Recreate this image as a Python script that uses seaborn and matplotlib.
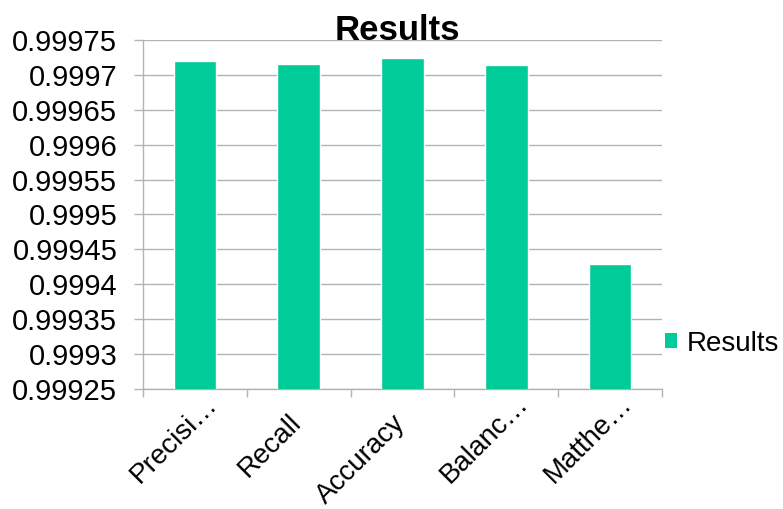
import matplotlib
matplotlib.use("Agg")
import matplotlib.pyplot as plt
import seaborn as sns
import pandas as pd
from matplotlib.patches import Patch
from matplotlib.ticker import FuncFormatter, FixedLocator
from matplotlib.transforms import ScaledTranslation

categories = ["Precisi…", "Recall", "Accuracy", "Balanc…", "Matthe…"]
values = [0.99972, 0.999715, 0.999724, 0.999714, 0.999429]
series_name = "Results"
yticks = [0.99925, 0.9993, 0.99935, 0.9994, 0.99945, 0.9995, 0.99955, 0.9996, 0.99965, 0.9997, 0.99975]

color = "#00CC99"
grid_color = "#B3B3B3"

sns.set_theme(style="white")
plt.rcParams["font.family"] = ["Liberation Sans", "DejaVu Sans"]

fig = plt.figure(figsize=(7.83, 5.09), dpi=100)
ax = fig.add_axes([0.1826, 0.2358, 0.8455 - 0.1826, 0.9214 - 0.2358])

df = pd.DataFrame({"cat": categories, "val": values})
sns.barplot(data=df, x="cat", y="val", color=color, width=0.41, ax=ax,
            saturation=1, zorder=3)

ax.set_ylim(yticks[0], yticks[-1])
ax.set_xlim(-0.5, len(categories) - 0.5)
ax.yaxis.set_major_locator(FixedLocator(yticks))
ax.yaxis.set_major_formatter(FuncFormatter(lambda v, p: f"{v:.5f}".rstrip("0")))
ax.grid(axis="y", color=grid_color, linewidth=1, zorder=0)
ax.set_axisbelow(True)

for s in ["top", "right"]:
    ax.spines[s].set_visible(False)
for s in ["left", "bottom"]:
    ax.spines[s].set_color(grid_color)
    ax.spines[s].set_linewidth(1)

ax.tick_params(axis="y", which="major", left=True, direction="out", length=6.5,
               color=grid_color, width=1, labelsize=21, pad=12, labelcolor="black")
ax.set_xticks(range(len(categories)))
ax.set_xticks([i - 0.5 for i in range(len(categories) + 1)], minor=True)
ax.tick_params(axis="x", which="major", bottom=False, length=0, labelsize=20, pad=0,
               labelcolor="black")
ax.tick_params(axis="x", which="minor", bottom=True, direction="out", length=6,
               color=grid_color, width=1)
ax.set_xticklabels(categories, rotation=45, ha="right", va="center", rotation_mode="anchor")
for lbl in ax.get_xticklabels():
    if lbl.get_text().endswith("…"):
        off = ScaledTranslation(0.18, -0.11, fig.dpi_scale_trans)
    else:
        off = ScaledTranslation(-0.01, -0.30, fig.dpi_scale_trans)
    lbl.set_transform(lbl.get_transform() + off)

ax.set_xlabel("")
ax.set_ylabel("")
ax.set_title("Results", fontsize=25, fontweight="bold", pad=0, color="black", x=0.49)

handle = Patch(facecolor=color, edgecolor="none", label=series_name)
ax.legend(handles=[handle], loc="center left", bbox_to_anchor=(1.006, 0.13),
          frameon=False, fontsize=20, handlelength=0.43, handleheight=0.43,
          handletextpad=0.36, borderaxespad=0, borderpad=0, labelcolor="black")

fig.savefig("out.png", dpi=100)
